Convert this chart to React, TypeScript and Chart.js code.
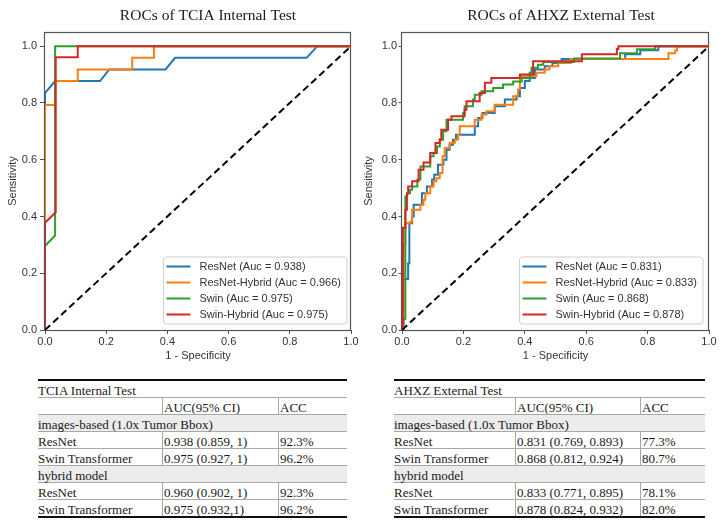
import React, { useEffect, useRef } from "react";
import { Chart, registerables } from "chart.js";

Chart.register(...registerables);

const SANS = '"Liberation Sans", Arial, Helvetica, sans-serif';
const SERIF = '"Liberation Serif", "Times New Roman", Times, serif';

// ---------- shared ----------
const MODEL_NAMES = ["ResNet", "ResNet-Hybrid", "Swin", "Swin-Hybrid"];
const MODEL_COLORS = ["#1f77b4", "#ff7f0e", "#2ca02c", "#d62728"];
const AXIS_TICKS = [0, 0.2, 0.4, 0.6, 0.8, 1.0];
const DIAG_X = [0, 1];
const DIAG_Y = [0, 1];
const X_LABEL = "1 - Specificity";
const Y_LABEL = "Sensitivity";

// ---------- TCIA internal test ----------
const TCIA_TITLE = "ROCs of TCIA Internal Test";
const TCIA_AUC = [0.938, 0.966, 0.975, 0.975];
const TCIA_RESNET_FPR = [0, 0, 0.033, 0.18, 0.21, 0.394, 0.425, 0.855, 0.89, 1];
const TCIA_RESNET_TPR = [0, 0.835, 0.877, 0.877, 0.918, 0.918, 0.959, 0.959, 1, 1];
const TCIA_RESHYB_FPR = [0, 0, 0.033, 0.033, 0.107, 0.107, 0.285, 0.285, 0.356, 0.356, 1];
const TCIA_RESHYB_TPR = [0, 0.793, 0.793, 0.877, 0.877, 0.918, 0.918, 0.959, 0.959, 1, 1];
const TCIA_SWIN_FPR = [0, 0, 0.033, 0.033, 1];
const TCIA_SWIN_TPR = [0, 0.296, 0.333, 1, 1];
const TCIA_SWINHYB_FPR = [0, 0, 0.035, 0.035, 0.107, 0.107, 1];
const TCIA_SWINHYB_TPR = [0, 0.378, 0.415, 0.961, 0.961, 1, 1];

// ---------- AHXZ external test (step points) ----------
const AHXZ_TITLE = "ROCs of AHXZ External Test";
const AHXZ_AUC = [0.831, 0.833, 0.868, 0.878];
const AHXZ_RESNET_FPR = [0, 0, 0.02, 0.024, 0.033, 0.038, 0.065, 0.081, 0.098, 0.105, 0.117, 0.135, 0.145, 0.155, 0.166, 0.176, 0.237, 0.248, 0.262, 0.302, 0.335, 0.373, 0.384, 0.40, 0.416, 0.433, 0.465, 0.49, 0.52, 0.727, 0.776, 0.835, 1];
const AHXZ_RESNET_TPR = [0, 0.18, 0.235, 0.376, 0.40, 0.441, 0.482, 0.506, 0.53, 0.547, 0.582, 0.60, 0.635, 0.653, 0.67, 0.688, 0.718, 0.747, 0.765, 0.788, 0.812, 0.824, 0.853, 0.877, 0.888, 0.918, 0.929, 0.941, 0.955, 0.972, 0.986, 1.0, 1.0];
const AHXZ_RESHYB_FPR = [0, 0.005, 0.011, 0.027, 0.033, 0.06, 0.07, 0.076, 0.092, 0.103, 0.112, 0.123, 0.132, 0.139, 0.155, 0.172, 0.183, 0.188, 0.237, 0.259, 0.275, 0.302, 0.362, 0.378, 0.384, 0.438, 0.465, 0.48, 0.509, 0.55, 0.868, 0.89, 0.896, 1];
const AHXZ_RESHYB_TPR = [0, 0.30, 0.376, 0.382, 0.424, 0.441, 0.459, 0.482, 0.506, 0.524, 0.535, 0.553, 0.612, 0.641, 0.659, 0.671, 0.688, 0.718, 0.741, 0.759, 0.771, 0.794, 0.824, 0.847, 0.894, 0.906, 0.918, 0.929, 0.941, 0.955, 0.975, 0.985, 1.0, 1.0];
const AHXZ_SWIN_FPR = [0, 0.005, 0.011, 0.016, 0.026, 0.033, 0.05, 0.06, 0.092, 0.103, 0.114, 0.123, 0.134, 0.145, 0.199, 0.204, 0.231, 0.237, 0.259, 0.297, 0.329, 0.362, 0.39, 0.416, 0.422, 0.443, 0.46, 0.56, 0.71, 0.765, 0.825, 1];
const AHXZ_SWIN_TPR = [0, 0.04, 0.47, 0.482, 0.494, 0.506, 0.53, 0.576, 0.612, 0.624, 0.647, 0.67, 0.70, 0.741, 0.765, 0.788, 0.812, 0.829, 0.841, 0.853, 0.865, 0.876, 0.888, 0.906, 0.924, 0.935, 0.944, 0.957, 0.975, 0.989, 1.0, 1.0];
const AHXZ_SWINHYB_FPR = [0, 0.003, 0.011, 0.016, 0.02, 0.033, 0.054, 0.07, 0.092, 0.109, 0.123, 0.128, 0.15, 0.161, 0.204, 0.21, 0.253, 0.27, 0.291, 0.384, 0.427, 0.586, 0.70, 0.705, 1];
const AHXZ_SWINHYB_TPR = [0, 0.36, 0.424, 0.48, 0.506, 0.524, 0.565, 0.59, 0.624, 0.659, 0.671, 0.706, 0.741, 0.753, 0.776, 0.806, 0.835, 0.871, 0.888, 0.9, 0.947, 0.972, 0.99, 1.0, 1.0];

// ---------- tables ----------
const TCIA_TABLE_TITLE = "TCIA Internal Test";
const AHXZ_TABLE_TITLE = "AHXZ External Test";
const TABLE_HEADERS = ["AUC(95% CI)", "ACC"];
const GROUP_LABELS = ["images-based (1.0x Tumor Bbox)", "hybrid model"];
const TABLE_MODELS = ["ResNet", "Swin Transformer"];
const TCIA_AUC_CI = [["0.938 (0.859, 1)", "0.975 (0.927, 1)"], ["0.960 (0.902, 1)", "0.975 (0.932,1)"]];
const TCIA_ACC = [["92.3%", "96.2%"], ["92.3%", "96.2%"]];
const AHXZ_AUC_CI = [["0.831 (0.769, 0.893)", "0.868 (0.812, 0.924)"], ["0.833 (0.771, 0.895)", "0.878 (0.824, 0.932)"]];
const AHXZ_ACC = [["77.3%", "80.7%"], ["78.1%", "82.0%"]];

const framePlugin = {
  id: "frame",
  beforeDatasetsDraw(chart: any) {
    const { ctx, chartArea } = chart;
    const l = Math.round(chartArea.left), t = Math.round(chartArea.top);
    const r = Math.round(chartArea.right), b = Math.round(chartArea.bottom);
    ctx.save();
    ctx.strokeStyle = "#555";
    ctx.lineWidth = 1.2;
    ctx.strokeRect(l - 0.5, t + 0.5, r - l, b - t);
    ctx.restore();
  },
};

const legendPlugin = {
  id: "innerLegend",
  afterDatasetsDraw(chart: any, _a: any, opts: any) {
    const { ctx, chartArea } = chart;
    const labels: string[] = opts.labels || [];
    ctx.save();
    ctx.font = `11px ${SANS}`;
    const tw = Math.max(...labels.map((l) => ctx.measureText(l).width));
    const w = 36 + tw + 6;
    const h = 67;
    const x = chartArea.right - opts.right - w;
    const y = chartArea.bottom - 6 - h;
    ctx.beginPath();
    const r = 3;
    ctx.moveTo(x + r, y);
    ctx.lineTo(x + w - r, y);
    ctx.arcTo(x + w, y, x + w, y + r, r);
    ctx.lineTo(x + w, y + h - r);
    ctx.arcTo(x + w, y + h, x + w - r, y + h, r);
    ctx.lineTo(x + r, y + h);
    ctx.arcTo(x, y + h, x, y + h - r, r);
    ctx.lineTo(x, y + r);
    ctx.arcTo(x, y, x + r, y, r);
    ctx.closePath();
    ctx.fillStyle = "rgba(255,255,255,0.85)";
    ctx.fill();
    ctx.strokeStyle = "#cfcfcf";
    ctx.lineWidth = 1;
    ctx.stroke();
    labels.forEach((lab, i) => {
      const yy = y + 9.5 + i * 16;
      ctx.beginPath();
      ctx.moveTo(x + 3, yy);
      ctx.lineTo(x + 27, yy);
      ctx.strokeStyle = MODEL_COLORS[i];
      ctx.lineWidth = 2;
      ctx.stroke();
      ctx.fillStyle = "#333";
      ctx.textAlign = "left";
      ctx.textBaseline = "middle";
      ctx.fillText(lab, x + 36, yy + 0.5);
    });
    ctx.restore();
  },
};

const titlePlugin = {
  id: "posTitle",
  afterDraw(chart: any, _a: any, opts: any) {
    const c = chart.ctx;
    c.save();
    c.font = `15.5px ${SERIF}`;
    c.fillStyle = "#1a1a1a";
    c.textAlign = "center";
    c.textBaseline = "alphabetic";
    c.fillText(opts.text, opts.x, opts.y);
    c.restore();
  },
};

function RocChart(p: any) {
  const ref = useRef<HTMLCanvasElement | null>(null);
  useEffect(() => {
    if (!ref.current) return;
    const datasets: any[] = p.fpr.map((xs: number[], i: number) => ({
      label: MODEL_NAMES[i],
      data: xs.map((x: number, j: number) => ({ x, y: p.tpr[i][j] })),
      borderColor: MODEL_COLORS[i],
      backgroundColor: MODEL_COLORS[i],
      borderWidth: 2,
      pointRadius: 0,
      pointHoverRadius: 0,
      showLine: true,
      fill: false,
      tension: 0,
      stepped: p.stepped ? "before" : false,
      order: 10 - i,
    }));
    datasets.push({
      label: "chance",
      data: DIAG_X.map((x, j) => ({ x, y: DIAG_Y[j] })),
      borderColor: "#000",
      borderWidth: 2,
      borderDash: [7, 4],
      pointRadius: 0,
      showLine: true,
      fill: false,
      order: 0,
    });
    const tickFont = { size: 11, family: SANS };
    const chart = new Chart(ref.current, {
      type: "scatter",
      data: { datasets },
      options: {
        responsive: false,
        animation: false,
        events: [],
        layout: { padding: { top: 32, right: p.padRight, bottom: 0, left: 0 } },
        plugins: {
          legend: { display: false },
          tooltip: { enabled: false },
          title: { display: false },
          innerLegend: { labels: MODEL_NAMES.map((n, i) => `${n} (Auc = ${p.auc[i].toFixed(3)})`), right: p.legendRight },
          posTitle: { text: p.title, x: p.titleX, y: 20 },
        } as any,
        scales: {
          x: {
            type: "linear",
            min: 0,
            max: 1,
            afterBuildTicks: (s: any) => { s.ticks = AXIS_TICKS.map((v) => ({ value: v })); },
            afterFit: (s: any) => { s.height = 40; },
            ticks: { callback: (v: any) => Number(v).toFixed(1), font: tickFont, color: "#333", padding: 1.5, maxRotation: 0, autoSkip: false },
            grid: { display: true, drawOnChartArea: false, drawTicks: true, tickLength: 4, color: "#555", tickColor: "#555" },
            border: { display: false },
            title: { display: true, text: X_LABEL, font: tickFont, color: "#333", padding: { top: 0, bottom: 7 } },
          },
          y: {
            type: "linear",
            min: 0,
            max: 1.05,
            afterBuildTicks: (s: any) => { s.ticks = AXIS_TICKS.map((v) => ({ value: v })); },
            afterFit: (s: any) => { s.width = p.yWidth; },
            ticks: { callback: (v: any) => Number(v).toFixed(1), font: tickFont, color: "#333", padding: p.yTickPad, autoSkip: false },
            grid: { display: true, drawOnChartArea: false, drawTicks: true, tickLength: p.yTickLen, color: "#555", tickColor: "#555" },
            border: { display: false },
            title: { display: true, text: Y_LABEL, font: tickFont, color: "#333", padding: { top: p.yTitlePad, bottom: 0 } },
          },
        },
      } as any,
      plugins: [framePlugin, legendPlugin, titlePlugin],
    });
    return () => chart.destroy();
  }, []);
  return (
    <canvas
      ref={ref}
      width={p.width}
      height={370}
      style={{ position: "absolute", left: p.left, top: 0, width: p.width, height: 370 }}
    />
  );
}

function ResultTable(p: any) {
  const rowH = 17;
  const thin = "1px solid #a8a8a8";
  const thick = "2px solid #111";
  const base: any = {
    height: rowH,
    boxSizing: "border-box",
    borderBottom: thin,
    display: "flex",
    fontFamily: SERIF,
    fontSize: 13,
    color: "#1a1a1a",
    whiteSpace: "nowrap",
  };
  const cell = (w: number, text: string, sep: boolean) => (
    <div style={{ width: w, boxSizing: "border-box", borderLeft: sep ? thin : "none", paddingLeft: sep ? 1 : 0, lineHeight: `${rowH + 2}px`, overflow: "hidden" }}>{text}</div>
  );
  const dataRow = (g: number, m: number, last: boolean) => (
    <div style={{ ...base, borderBottom: last ? thick : thin, height: last ? rowH + 1 : rowH }}>
      {cell(p.cols[0], TABLE_MODELS[m], false)}
      {cell(p.cols[1], p.aucCi[g][m], true)}
      {cell(p.cols[2], p.acc[g][m], true)}
    </div>
  );
  const groupRow = (text: string) => (
    <div style={{ ...base, background: "#ececec" }}>
      <div style={{ lineHeight: `${rowH + 2}px` }}>{text}</div>
    </div>
  );
  return (
    <div style={{ position: "absolute", left: p.left, top: 379, width: p.width, borderTop: thick }}>
      <div style={base}><div style={{ lineHeight: `${rowH + 2}px` }}>{p.title}</div></div>
      <div style={base}>
        {cell(p.cols[0], "", false)}
        {cell(p.cols[1], TABLE_HEADERS[0], true)}
        {cell(p.cols[2], TABLE_HEADERS[1], true)}
      </div>
      {groupRow(GROUP_LABELS[0])}
      {dataRow(0, 0, false)}
      {dataRow(0, 1, false)}
      {groupRow(GROUP_LABELS[1])}
      {dataRow(1, 0, false)}
      {dataRow(1, 1, true)}
    </div>
  );
}

export default function App() {
  return (
    <div style={{ position: "absolute", left: 0, top: 0, width: 723, height: 526, background: "#fff", overflow: "hidden" }}>
      <RocChart
        left={0}
        width={362}
        padRight={11}
        yWidth={45}
        yTickLen={5}
        yTickPad={3}
        yTitlePad={6}
        legendRight={4}
        title={TCIA_TITLE}
        titleX={208}
        auc={TCIA_AUC}
        stepped={false}
        fpr={[TCIA_RESNET_FPR, TCIA_RESHYB_FPR, TCIA_SWIN_FPR, TCIA_SWINHYB_FPR]}
        tpr={[TCIA_RESNET_TPR, TCIA_RESHYB_TPR, TCIA_SWIN_TPR, TCIA_SWINHYB_TPR]}
      />
      <RocChart
        left={362}
        width={361}
        padRight={14}
        yWidth={40}
        yTickLen={3.5}
        yTickPad={1.5}
        yTitlePad={0}
        legendRight={6}
        title={AHXZ_TITLE}
        titleX={199}
        auc={AHXZ_AUC}
        stepped={true}
        fpr={[AHXZ_RESNET_FPR, AHXZ_RESHYB_FPR, AHXZ_SWIN_FPR, AHXZ_SWINHYB_FPR]}
        tpr={[AHXZ_RESNET_TPR, AHXZ_RESHYB_TPR, AHXZ_SWIN_TPR, AHXZ_SWINHYB_TPR]}
      />
      <ResultTable left={38} width={309} cols={[124, 116, 69]} title={TCIA_TABLE_TITLE} aucCi={TCIA_AUC_CI} acc={TCIA_ACC} />
      <ResultTable left={394} width={311} cols={[121, 125, 65]} title={AHXZ_TABLE_TITLE} aucCi={AHXZ_AUC_CI} acc={AHXZ_ACC} />
    </div>
  );
}
